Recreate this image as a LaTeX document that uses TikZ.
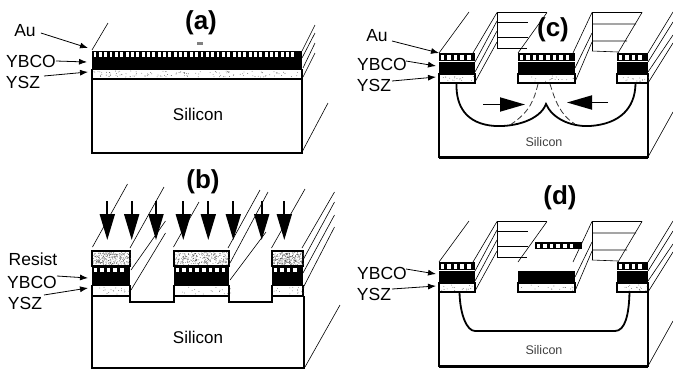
\documentclass[tikz,border=0pt]{standalone}
\usepackage{fontspec}
\setmainfont{Liberation Sans}
\usetikzlibrary{arrows.meta}
\newcommand{\aub}[5]{% x1 x2 y1 y2 period
  \fill[black] (#1,#3) rectangle (#2,#4);
  \pgfmathsetmacro\nsq{int((#2-#1-1.5)/#5)-1}
  \foreach \k in {0,...,\nsq}{
    \pgfmathsetmacro\qx{#1+1.5+\k*#5}
    \fill[white] (\qx,#3+1.5) rectangle ({\qx+#5*0.55},#4-1.5);
  }
}
\newcommand{\speck}[5]{% x1 x2 y1 y2 n
  \foreach \k in {1,...,#5}{
    \pgfmathsetmacro\qx{#1+(#2-#1)*rnd}
    \pgfmathsetmacro\qy{#3+(#4-#3)*rnd}
    \fill[black!70] (\qx,\qy) circle (0.4);
  }
}
\tikzset{
  layer/.style={draw=black,line width=1.1pt},
  thin3d/.style={draw=black,line width=0.6pt},
  lbl/.style={font=\fontsize{17.5}{17.5}\selectfont,inner sep=0pt},
  ttl/.style={font=\fontsize{26}{26}\selectfont\bfseries,inner sep=0pt},
  sil/.style={font=\fontsize{17}{17}\selectfont,inner sep=0pt},
  sils/.style={font=\fontsize{12.5}{12.5}\selectfont,inner sep=0pt,text=black!75},
  lead/.style={draw=black,line width=0.8pt,-{Latex[length=8pt,width=6pt]}},
  box/.style={draw=black,line width=1.5pt},
  bigdown/.style={draw=black,line width=1.8pt,-{Triangle[length=26pt,width=15pt]}},
  bighoriz/.style={draw=black,line width=1.8pt,-{Triangle[length=25pt,width=14pt]}},
  edge/.style={draw=black,line width=1.8pt},
  dashy/.style={draw=black!80,line width=0.8pt,dash pattern=on 6pt off 3pt}
}
\begin{document}
\begin{tikzpicture}[x=1pt,y=-1pt]
\useasboundingbox (0,0) rectangle (673,370);
\pgfmathsetseed{7}
% ---------- (a)
\draw[thin3d] (92,50) -- (108,23);
\draw[thin3d] (302,51) -- (315,25) (302,58) -- (315,33) (303,68) -- (315,43) (303,77) -- (315,53);
\draw[thin3d] (302,152) -- (328,103);
\draw[box] (92,79) rectangle (302,153);
\aub{92}{302}{50.5}{58}{5.35}
\fill[black] (92,58) rectangle (302,69.5);
\draw[layer] (92,69.5) rectangle (302,79);
\speck{94}{300}{71}{77}{120}
\fill[black!50] (197,42) rectangle (203,45);
\node[ttl] (ta) at (201,23) {(a)};
\node[lbl] (aAu) at (25,31) {Au};
\node[lbl] (aY) at (31,61) {YBCO};
\node[lbl] (aZ) at (23,82) {YSZ};
\node[sil] (aS) at (198,114) {Silicon};
\coordinate (aAuT) at (88,48);
\coordinate (aYT) at (87,62);
\coordinate (aZT) at (88,72);
\draw[lead] (aAu.east)+(5,2) -- (aAuT);
\draw[lead] (aY.east) -- (aYT);
\draw[lead] (44,76) -- (aZT);
% ---------- (b)
\draw[thin3d] (92.5,247) -- (127.5,184);
\draw[thin3d] (130,248) -- (164,187) (131,270) -- (165.5,221) (131,290) -- (165.5,233);
\draw[thin3d] (173.5,247) -- (199,202);
\draw[thin3d] (228,248) -- (260,190) (230,263) -- (268,192) (230,280) -- (266,232);
\draw[thin3d] (271.5,248) -- (305,189);
\draw[thin3d] (302,248) -- (334.5,192) (303,260) -- (334.5,202) (303,273) -- (334.5,215) (303,288) -- (334.5,227);
\draw[thin3d] (305,367) -- (340,305);
\draw[box] (92,296.5) -- (130,296.5) -- (130,302) -- (174,302) -- (174,296.5) -- (229,296.5) -- (229,302) -- (272,302) -- (272,296.5) -- (304,296.5) -- (304,368) -- (92,368) -- cycle;
\foreach \xa/\xb in {92/130,174/229,272/303}{
  \draw[box] (\xa,251) rectangle (\xb,266);
  \speck{\xa+1}{\xb-1}{252.5}{264.5}{260}
  \aub{\xa}{\xb}{266}{273.5}{6.6}
  \fill[black] (\xa,274) rectangle (\xb,285.5);
  \draw[layer] (\xa,285.5) rectangle (\xb,296);
  \speck{\xa+2}{\xb-2}{287}{294}{18}
}
\foreach \ax/\n in {107.3/1,131.7/2,156/3,183.3/4,208.3/5,233.3/6,261.7/7,284.3/8}{
  \coordinate (bs\n) at (\ax,201);
  \coordinate (be\n) at (\ax,240);
  \draw[bigdown] (bs\n) -- (be\n);
}
\node[ttl] (tb) at (203,182) {(b)};
\node[lbl] (bR) at (33,259) {Resist};
\node[lbl] (bY) at (32,282) {YBCO};
\node[lbl] (bZ) at (25,303) {YSZ};
\node[sil] (bS) at (198,337) {Silicon};
\coordinate (bYT) at (88,278);
\coordinate (bZT) at (88,288);
\draw[lead] (bY.east)+(0,-6) -- (bYT);
\draw[lead] (44,295) -- (bZT);
% ---------- (c) and (d)
\foreach \dy in {0,209}{
\begin{scope}[yshift=-\dy pt]
  \draw[thin3d] (439,53) -- (469,12);
  \draw[thin3d] (473,53) -- (497,12.5) (475,62) -- (497,21) (475,72) -- (497,31) (475,82) -- (497,42);
  \draw[thin3d] (497,12.5) -- (497,48);
  \draw[thin3d] (497,12.5) -- (547,12.5) (497,22) -- (528,22) (497,37) -- (528,37) (497,48) -- (527,48);
  \draw[thin3d] (518,53) -- (547,12.5);
  \draw[thin3d] (573,53) -- (592,12.5) (575,68) -- (592,33) (575,82) -- (592,42);
  \draw[thin3d] (592,12.5) -- (592,51);
  \draw[thin3d] (592,12.5) -- (642,12.5) (592,24) -- (636,24) (592,41) -- (627,41) (592,51) -- (618,52);
  \draw[thin3d] (618,53) -- (642,12.5);
  \draw[thin3d] (648,53) -- (673,12) (648,62) -- (673,22) (648,72) -- (673,35) (648,83) -- (673,43);
  \draw[thin3d] (648,157) -- (673,112);
  \draw[box] (439,83) -- (439,157) -- (648,157) -- (648,83);
  \draw[black,line width=2pt] (439,157.5) -- (648,157.5);
  \foreach \xa/\xb in {439/475,518/575,617/648}{
    \fill[black] (\xa,62) rectangle (\xb,73.5);
    \draw[layer] (\xa,74) rectangle (\xb,83);
    \speck{\xa+2}{\xb-2}{76}{81.5}{16}
  }
  \aub{439}{475}{53}{61}{6.6}
  \aub{617}{648}{53}{61}{6.6}
\end{scope}
}
\aub{518}{575}{53}{61}{6.6}
\aub{535}{582}{242}{249}{6.6}
\draw[edge] (456.5,84) .. controls (456,105) and (465,124) .. (495,126) .. controls (515,127) and (540,120) .. (546,104)
  .. controls (552,118) and (570,127) .. (590,126) .. controls (620,124) and (635,108) .. (635.5,84);
\draw[dashy] (538,84) .. controls (534,100) and (530,112) .. (510,125);
\draw[dashy] (550,84) .. controls (555,100) and (560,115) .. (575,124);
\coordinate (cAs) at (483,104.5);
\coordinate (cAe) at (525,104.5);
\coordinate (cBs) at (608,102.5);
\coordinate (cBe) at (567,102.5);
\draw[bighoriz] (cAs) -- (cAe);
\draw[bighoriz] (cBs) -- (cBe);
\node[ttl] (tc) at (553,30) {(c)};
\node[lbl] (cAu) at (377,36) {Au};
\node[lbl] (cY) at (382,64) {YBCO};
\node[lbl] (cZ) at (374,85) {YSZ};
\node[sils] (cS) at (544,142) {Silicon};
\coordinate (cAuT) at (439,53);
\coordinate (cYT) at (436,66);
\coordinate (cZT) at (436,77);
\draw[lead] (392,41) -- (cAuT);
\draw[lead] (406,61) -- (cYT);
\draw[lead] (392,81) -- (cZT);
\draw[edge] (459.5,292) .. controls (460,315) and (467,331) .. (475,331) -- (615,331) .. controls (625,331) and (629,315) .. (629.5,292);
\node[ttl] (td) at (560,198) {(d)};
\node[lbl] (dY) at (382,273) {YBCO};
\node[lbl] (dZ) at (374,294) {YSZ};
\node[sils] (dS) at (544,350) {Silicon};
\coordinate (dYT) at (436,274);
\coordinate (dZT) at (436,286);
\draw[lead] (406,269) -- (dYT);
\draw[lead] (392,289) -- (dZT);
\end{tikzpicture}
\end{document}
